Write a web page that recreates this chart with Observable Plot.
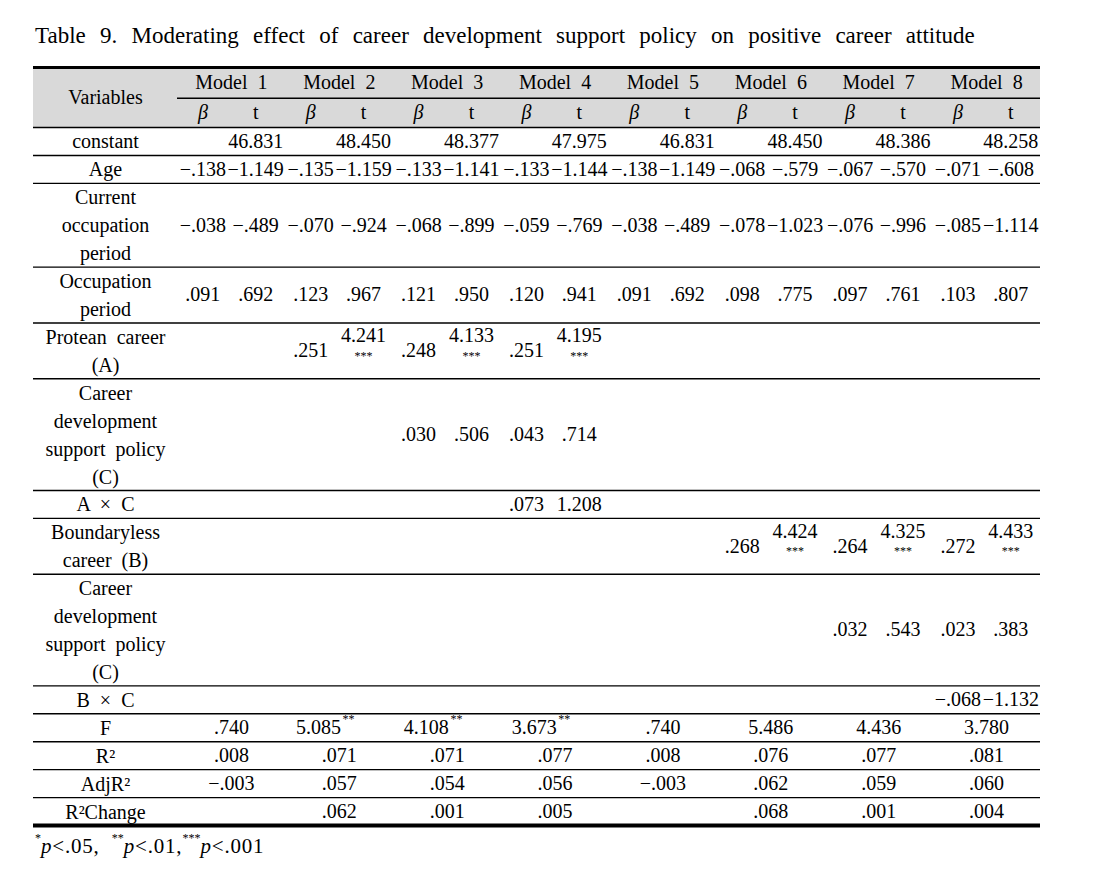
<!DOCTYPE html>
<html>
<head>
<meta charset="utf-8">
<script src="https://cdn.jsdelivr.net/npm/d3@7"></script>
<script src="https://cdn.jsdelivr.net/npm/@observablehq/plot@0.6"></script>
<style>
  body { margin: 0; background: #fff; width: 1099px; height: 876px; position: relative; overflow: hidden;
         font-family: "Liberation Serif", serif; color: #000; }
  #title { position: absolute; left: 35px; top: 24px; font-size: 23px; word-spacing: 8.5px; white-space: nowrap; line-height: 1; }
  #chart { position: absolute; left: 0; top: 60px; }
  #note { position: absolute; left: 35px; top: 836px; font-size: 21px; letter-spacing: 0.8px; line-height: 1; white-space: nowrap; }
  #note sup { font-size: 12px; vertical-align: top; position: relative; top: -4px; letter-spacing: 0; }
  #chart svg text { word-spacing: 5px; }
</style>
</head>
<body>
<div id="title">Table 9. Moderating effect of career development support policy on positive career attitude</div>
<div id="chart"></div>
<div id="note"><sup>*</sup><i>p</i>&lt;.05, &nbsp;<sup>**</sup><i>p</i>&lt;.01,<sup>***</sup><i>p</i>&lt;.001</div>
<script>
// ---------- data ----------
const models = ["Model 1", "Model 2", "Model 3", "Model 4", "Model 5", "Model 6", "Model 7", "Model 8"];
const subHeads = ["β", "t"];
const variables = [
  "constant",
  "Age",
  "Current\noccupation\nperiod",
  "Occupation\nperiod",
  "Protean career\n(A)",
  "Career\ndevelopment\nsupport policy\n(C)",
  "A × C",
  "Boundaryless\ncareer (B)",
  "Career\ndevelopment\nsupport policy\n(C)",
  "B × C",
  "F",
  "R²",
  "AdjR²",
  "R²Change"
];
const constantT    = [46.831, 48.450, 48.377, 47.975, 46.831, 48.450, 48.386, 48.258];
const ageBeta      = [-0.138, -0.135, -0.133, -0.133, -0.138, -0.068, -0.067, -0.071];
const ageT         = [-1.149, -1.159, -1.141, -1.144, -1.149, -0.579, -0.570, -0.608];
const curOccBeta   = [-0.038, -0.070, -0.068, -0.059, -0.038, -0.078, -0.076, -0.085];
const curOccT      = [-0.489, -0.924, -0.899, -0.769, -0.489, -1.023, -0.996, -1.114];
const occBeta      = [0.091, 0.123, 0.121, 0.120, 0.091, 0.098, 0.097, 0.103];
const occT         = [0.692, 0.967, 0.950, 0.941, 0.692, 0.775, 0.761, 0.807];
const proteanBeta  = [null, 0.251, 0.248, 0.251, null, null, null, null];
const proteanT     = [null, 4.241, 4.133, 4.195, null, null, null, null];
const proteanSig   = [null, "***", "***", "***", null, null, null, null];
const supportABeta = [null, null, 0.030, 0.043, null, null, null, null];
const supportAT    = [null, null, 0.506, 0.714, null, null, null, null];
const axcBeta      = [null, null, null, 0.073, null, null, null, null];
const axcT         = [null, null, null, 1.208, null, null, null, null];
const boundBeta    = [null, null, null, null, null, 0.268, 0.264, 0.272];
const boundT       = [null, null, null, null, null, 4.424, 4.325, 4.433];
const boundSig     = [null, null, null, null, null, "***", "***", "***"];
const supportBBeta = [null, null, null, null, null, null, 0.032, 0.023];
const supportBT    = [null, null, null, null, null, null, 0.543, 0.383];
const bxcBeta      = [null, null, null, null, null, null, null, -0.068];
const bxcT         = [null, null, null, null, null, null, null, -1.132];
const fValues      = [0.740, 5.085, 4.108, 3.673, 0.740, 5.486, 4.436, 3.780];
const fSig         = ["", "**", "**", "**", "", "", "", ""];
const r2Values     = [0.008, 0.071, 0.071, 0.077, 0.008, 0.076, 0.077, 0.081];
const adjR2Values  = [-0.003, 0.057, 0.054, 0.056, -0.003, 0.062, 0.059, 0.060];
const r2Change     = [null, 0.062, 0.001, 0.005, null, 0.068, 0.001, 0.004];

// ---------- table structure ----------
const betaRows = [null, ageBeta, curOccBeta, occBeta, proteanBeta, supportABeta, axcBeta, boundBeta, supportBBeta, bxcBeta, null, null, null, null];
const tRows    = [constantT, ageT, curOccT, occT, proteanT, supportAT, axcT, boundT, supportBT, bxcT, null, null, null, null];
const sigRows  = [null, null, null, null, proteanSig, null, null, boundSig, null, null, null, null, null, null];
const fitRows  = [null, null, null, null, null, null, null, null, null, null, fValues, r2Values, adjR2Values, r2Change];
const fitSigRows = [null, null, null, null, null, null, null, null, null, null, fSig, null, null, null];

const fmt = v => (v < 0 ? "−" : "") + (Math.abs(v) < 1 ? Math.abs(v).toFixed(3).slice(1) : Math.abs(v).toFixed(3));

const H1 = 1.1, H2 = 1.05;     // header row heights (line units)
const VW = 2.67;               // variable column width (sub-column units)
let acc = H1 + H2;
const rows = variables.map((label, i) => {
  const lines = label.split("\n").length;
  const y0 = acc; acc += lines;
  return {label, i, y0, y1: acc, yc: y0 + lines / 2};
});
const totalY = acc;
const totalX = VW + models.length * 2;

const headModels = models.map((m, k) => ({text: m, x: VW + 2 * k + 1, y: H1 / 2}));
const headSubs = models.flatMap((m, k) => subHeads.map((s, j) => ({text: s, j, x: VW + 2 * k + (j ? 1.45 : 0.47), y: H1 + H2 / 2})));

const plainCells = [], sigCells = [], fitPlain = [], fitStar = [];
rows.forEach((r, i) => {
  models.forEach((m, k) => {
    const b = betaRows[i] ? betaRows[i][k] : null;
    const t = tRows[i] ? tRows[i][k] : null;
    const s = sigRows[i] ? sigRows[i][k] : null;
    const f = fitRows[i] ? fitRows[i][k] : null;
    const fs = fitSigRows[i] ? fitSigRows[i][k] : "";
    if (b != null) plainCells.push({x: VW + 2 * k + 0.47, y: r.yc, text: fmt(b)});
    if (t != null) {
      if (s) sigCells.push({x: VW + 2 * k + 1.45, y: r.yc, text: fmt(t), sig: s});
      else plainCells.push({x: VW + 2 * k + 1.45, y: r.yc, text: fmt(t)});
    }
    if (f != null) {
      if (fs) fitStar.push({x: VW + 2 * k + 1, y: r.yc, text: fmt(f), sig: fs});
      else fitPlain.push({x: VW + 2 * k + 1, y: r.yc, text: fmt(f)});
    }
  });
});

const rowLines = [H1 + H2, ...rows.slice(0, -1).map(r => r.y1)];
const FS = 20;

const chart = Plot.plot({
  width: 1099,
  height: 770,
  marginLeft: 33,
  marginRight: 59,
  marginTop: 7,
  marginBottom: 5,
  x: {domain: [0, totalX], axis: null},
  y: {domain: [0, totalY], reverse: true, axis: null},
  style: {fontFamily: '"Liberation Serif", serif', fontSize: "20px", background: "white", color: "#000", overflow: "visible"},
  marks: [
    Plot.rect([{x1: 0, x2: totalX, y1: 0, y2: H1 + H2}], {x1: "x1", x2: "x2", y1: "y1", y2: "y2", fill: "#d9d9d9"}),
    Plot.ruleY(rowLines, {stroke: "#000", strokeWidth: 1.4}),
    Plot.ruleY([H1], {x1: VW, x2: totalX, stroke: "#000", strokeWidth: 1.4}),
    Plot.ruleY([0], {stroke: "#000", strokeWidth: 3}),
    Plot.ruleY([totalY], {stroke: "#000", strokeWidth: 4}),
    Plot.text([{text: "Variables", x: VW / 2, y: (H1 + H2) / 2}], {x: "x", y: "y", text: "text", fontSize: FS, fill: "#000"}),
    Plot.text(headModels, {x: "x", y: "y", text: "text", fontSize: FS, fill: "#000"}),
    Plot.text(headSubs.filter(d => d.j === 0), {x: "x", y: "y", text: "text", fontSize: FS, fill: "#000", fontStyle: "italic"}),
    Plot.text(headSubs.filter(d => d.j === 1), {x: "x", y: "y", text: "text", fontSize: FS, fill: "#000"}),
    Plot.text(rows, {x: VW / 2, y: "yc", text: "label", fontSize: FS, lineHeight: 1.4, fill: "#000", dy: -2}),
    Plot.text(plainCells, {x: "x", y: "y", text: "text", fontSize: FS, fill: "#000"}),
    Plot.text(sigCells, {x: "x", y: "y", text: "text", fontSize: FS, fill: "#000", dy: -15}),
    Plot.text(sigCells, {x: "x", y: "y", text: "sig", fontSize: 12, fill: "#000", dy: 5}),
    Plot.text(fitPlain, {x: "x", y: "y", text: "text", fontSize: FS, fill: "#000"}),
    Plot.text(fitStar, {x: d => d.x + 0.03, y: "y", text: "text", fontSize: FS, fill: "#000", textAnchor: "end"}),
    Plot.text(fitStar, {x: d => d.x + 0.06, y: "y", text: "sig", fontSize: 12, fill: "#000", textAnchor: "start", dy: -9})
  ]
});
document.getElementById("chart").appendChild(chart);
</script>
</body>
</html>
